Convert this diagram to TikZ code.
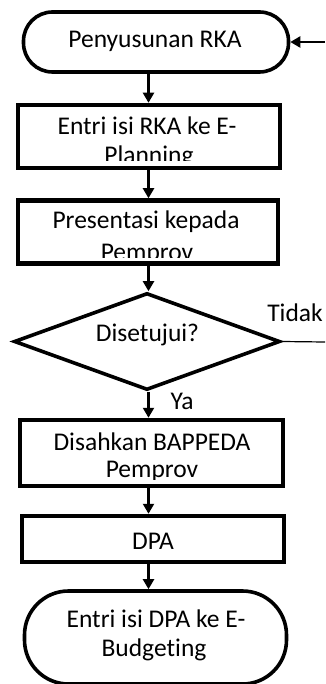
\documentclass[tikz,border=0pt]{standalone}
\usepackage{fontspec}
\setmainfont{Carlito}[Ligatures=NoCommon]
\usetikzlibrary{arrows.meta,shapes.geometric}
\begin{document}
\begin{tikzpicture}[x=1pt,y=-1pt,
  boxshape/.style={draw,line width=4.5pt,rectangle,inner sep=0pt},
  termshape/.style={draw,line width=3.6pt,rectangle,inner sep=0pt},
  txt/.style={font=\fontsize{25.5}{29}\selectfont,anchor=base,inner sep=0pt},
  arr/.style={line width=2.2pt,-{Triangle[width=11pt,length=10pt]}},
]
\useasboundingbox (0,0) rectangle (325,684);
\coordinate (col) at (148.5,0);
\coordinate (rin) at (325,42);
\coordinate (rout) at (325,342);

% texts (clipped like the reference)
\begin{scope}
 \clip (18,107) rectangle (280,161);
 \node[txt] (t2a) at (147,135) {Entri isi RKA ke E-};
 \node[txt] (t2b) at (149,164) {Planning};
\end{scope}
\begin{scope}
 \clip (18,202) rectangle (278,257);
 \node[txt] (t3a) at (146,229) {Presentasi kepada};
 \node[txt] (t3b) at (147,260) {Pemprov};
\end{scope}
\begin{scope}
 \clip (20,422) rectangle (283,479);
 \node[txt] (t4a) at (152,450) {Disahkan BAPPEDA};
 \node[txt] (t4b) at (152,477) {Pemprov};
\end{scope}

% shapes
\node[termshape,rounded corners=29pt,minimum width=265pt,minimum height=60pt] (term1) at (156,42) {};
\node[boxshape,minimum width=262pt,minimum height=63pt] (box2) at (149,136.5) {};
\node[boxshape,minimum width=260pt,minimum height=63pt] (box3) at (148,232) {};
\node[diamond,draw,line width=3.6pt,inner sep=0pt,minimum width=266pt,minimum height=97pt] (dec) at (147,341.5) {};
\node[boxshape,minimum width=263pt,minimum height=66pt] (box4) at (151.5,453) {};
\node[boxshape,minimum width=262pt,minimum height=46pt] (box5) at (153,539) {};
\node[termshape,rounded corners=44pt,minimum width=262pt,minimum height=93pt] (term2) at (155.5,637.5) {};

\node[txt] (t1) at (155,48) {Penyusunan RKA};
\node[txt] (td) at (147.5,341) {Disetujui?};
\node[txt] (t5) at (153,549) {DPA};
\node[txt] (t6a) at (156,627) {Entri isi DPA ke E-};
\node[txt] (t6b) at (154,656) {Budgeting};
\node[txt] (tidak) at (295,321) {Tidak};
\node[txt] (ya) at (182,409) {Ya};

% connectors
\draw[arr] (term1.south -| col) -- (box2.north -| col);
\draw[arr] (box2.south -| col) -- (box3.north -| col);
\draw[arr] (box3.south -| col) -- (dec.north -| col);
\draw[arr] (dec.south -| col) -- (box4.north -| col);
\draw[arr] (box4.south -| col) -- (box5.north -| col);
\draw[arr] (box5.south -| col) -- (term2.north -| col);
\draw[arr] (rin) -- (term1.east);
\draw[line width=1.2pt] (dec.east) -- (rout);
\end{tikzpicture}
\end{document}
